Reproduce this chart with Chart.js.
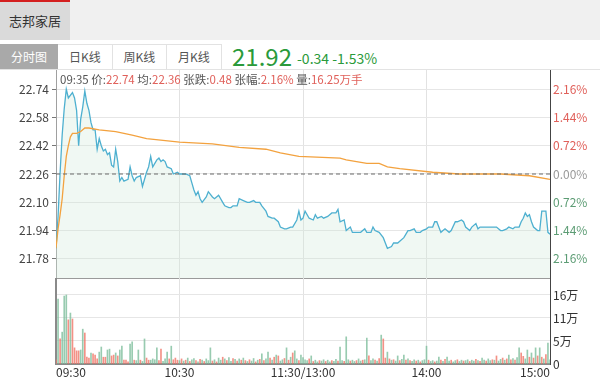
<!DOCTYPE html>
<html><head><meta charset="utf-8">
<script src="https://cdn.jsdelivr.net/npm/chart.js@4"></script>
<style>
body{margin:0;width:600px;height:383px;overflow:hidden;background:#fff;font-family:"Microsoft YaHei","Noto Sans CJK SC",sans-serif;position:relative}
.abs{position:absolute}
#band{left:0;top:0;width:600px;height:40px;background:#f0f0f0}
#stock{left:0;top:0;width:70px;height:38px;background:#dadada;border-top:2px solid #d4201f;color:#333;font-size:13px;line-height:38px;text-align:center}
.tab{top:44px;height:24px;line-height:24px;font-size:12px;text-align:center;color:#555;background:#fff;border:1px solid #e2e2e2;border-left:none;box-sizing:content-box}
#t0{left:0;width:58px;background:#a9a9a9;color:#fff;border-color:#a9a9a9}
#t1{left:58px;width:54px}
#t2{left:113px;width:53px}
#t3{left:167px;width:54px}
#last{left:232px;top:41px;font-size:24px;color:#2a9a3a;line-height:30px}
#chg{left:297px;top:49px;font-size:14px;color:#2a9a3a;line-height:18px}
#info{left:60px;top:71px;font-size:11.5px;color:#555;line-height:16px;white-space:nowrap}
#info b{font-weight:normal;color:#e0605a}
#topline{left:0;top:69px;width:600px;height:1px;background:#e3e3e3}
</style></head><body>
<div id="band" class="abs"></div>
<div id="stock" class="abs">志邦家居</div>
<div id="t0" class="abs tab">分时图</div>
<div id="t1" class="abs tab">日K线</div>
<div id="t2" class="abs tab">周K线</div>
<div id="t3" class="abs tab">月K线</div>
<div id="last" class="abs">21.92</div>
<div id="chg" class="abs">-0.34 -1.53%</div>
<div id="topline" class="abs"></div>
<canvas id="pc" class="abs" width="600" height="212" style="left:0;top:68px"></canvas>
<canvas id="vc" class="abs" width="600" height="105" style="left:0;top:278px"></canvas>
<div id="info" class="abs">09:35 价:<b>22.74</b> 均:<b>22.36</b> 张跌:<b>0.48</b> 张幅:<b>2.16%</b> 量:<b>16.25万手</b></div>
<script>
const prevClose = 22.26;
const priceTicks = [22.74, 22.58, 22.42, 22.26, 22.10, 21.94, 21.78];
const priceRange = [21.672, 22.848];
const timeLabels = {0: '09:30', 60: '10:30', 120: '11:30/13:00', 180: '14:00', 240: '15:00'};
const volTicks = [0, 16.25 / 3, 16.25 * 2 / 3, 16.25];
const volMax = 20.25;

const priceMin = [0,1,2,3,4,5,6,8,9,10,11,12,13,14,15,16,17,18,19,20,21,22,23,24,25,26,27,28,29,30,31,32,33,35,36,37,38,39,41,42,44,45,46,47,49,50,51,52,53,54,56,57,59,60,62,63,65,66,67,68,69,70,71,73,74,76,77,78,79,81,82,84,85,86,88,89,91,93,94,96,97,99,100,102,103,105,106,108,109,111,112,114,115,117,118,119,120,121,123,125,126,127,129,130,132,134,136,137,138,140,141,142,143,144,146,148,150,151,153,154,155,157,159,160,161,163,164,166,167,169,170,171,172,174,175,177,178,180,181,183,184,185,187,188,189,191,192,194,195,197,198,199,201,202,204,205,206,208,210,211,213,214,216,217,219,220,222,223,225,226,227,228,229,230,231,232,234,235,236,237,238,239,240];
const priceVal = [21.84,22.02,22.27,22.48,22.63,22.74,22.69,22.72,22.69,22.62,22.42,22.57,22.64,22.73,22.66,22.62,22.55,22.51,22.51,22.40,22.46,22.42,22.39,22.40,22.37,22.38,22.31,22.30,22.40,22.33,22.22,22.24,22.22,22.23,22.30,22.25,22.22,22.24,22.25,22.19,22.27,22.30,22.36,22.30,22.34,22.35,22.33,22.34,22.33,22.30,22.29,22.26,22.27,22.26,22.26,22.26,22.25,22.21,22.17,22.14,22.16,22.12,22.10,22.13,22.16,22.13,22.12,22.13,22.14,22.10,22.08,22.07,22.07,22.08,22.08,22.12,22.11,22.10,22.10,22.11,22.10,22.10,22.08,22.05,22.02,22.01,22.01,21.99,21.96,21.95,21.95,21.96,21.96,22.00,22.05,22.00,22.01,22.05,22.01,22.00,22.03,22.01,22.02,22.01,22.02,22.04,22.04,22.06,21.99,22.00,21.94,21.95,21.96,21.93,21.93,21.93,21.95,21.93,21.93,21.96,21.94,21.93,21.90,21.87,21.84,21.85,21.87,21.87,21.88,21.90,21.92,21.94,21.94,21.95,21.93,21.93,21.94,21.95,21.96,21.96,21.99,21.99,21.93,21.94,21.95,21.93,21.94,21.99,21.99,22.00,21.99,21.96,21.94,21.96,21.98,21.95,21.96,21.96,21.96,21.96,21.96,21.96,21.94,21.94,21.95,21.96,21.95,21.96,21.96,21.99,22.01,22.04,22.02,22.03,21.99,21.96,21.94,21.94,22.05,22.05,22.05,21.93,21.92];

const avgMin = [0,1,2,3,4,5,6,7,8,10,12,14,16,21,29,37,44,60,76,89,102,109,118,138,141,151,157,161,167,183,196,216,230,240];
const avgVal = [21.84,21.95,22.03,22.12,22.25,22.36,22.42,22.47,22.49,22.49,22.50,22.52,22.52,22.51,22.50,22.48,22.46,22.44,22.43,22.41,22.40,22.38,22.36,22.35,22.34,22.32,22.32,22.30,22.29,22.27,22.26,22.26,22.25,22.23];

// volume per minute, in 万手
const volume = [1.0,15.3,5.9,7.5,16.0,16.25,10.4,12.0,10.6,3.8,3.1,3.1,3.3,8.2,7.3,1.6,1.4,2.6,2.4,2.1,1.2,2.8,4.0,1.6,1.6,3.3,3.5,1.9,2.1,2.6,1.9,3.3,4.2,0.9,0.9,0.5,4.7,5.2,0.9,0.8,3.3,0.9,0.6,5.9,1.4,0.9,0.9,1.2,1.0,3.8,0.8,3.5,0.6,1.2,2.8,1.2,4.2,1.0,1.4,0.9,0.8,
1.2,0.7,0.9,1.4,0.6,1.0,1.3,0.8,0.5,1.1,
0.9,0.6,1.2,0.8,3.8,0.7,1.0,0.5,1.4,0.9,
1.6,1.2,0.8,1.5,0.6,1.3,1.1,0.7,1.2,0.9,
1.4,0.8,0.6,1.0,0.7,1.3,0.5,0.9,1.1,2.4,
0.8,1.2,2.8,1.4,0.9,1.6,2.1,1.9,0.7,1.0,
1.3,3.8,0.9,1.6,2.6,3.1,1.2,0.8,2.1,1.5,
1.0,0.8,1.2,1.9,0.6,0.9,0.5,0.8,0.7,1.0,
0.6,0.9,0.5,0.8,0.6,1.1,0.7,4.0,0.8,0.6,
6.4,1.0,0.7,0.9,0.6,0.8,1.2,0.7,0.9,1.0,
6.1,1.9,0.8,1.2,0.9,0.7,1.3,6.8,5.9,1.4,
2.8,1.2,0.9,1.0,0.7,1.9,0.8,1.1,2.1,0.9,
1.2,0.8,0.6,1.0,0.7,0.9,0.5,0.8,1.0,4.2,
0.9,0.6,0.8,0.5,0.7,1.6,0.9,0.6,1.1,1.6,
0.7,0.9,0.5,0.8,1.0,0.6,0.9,0.7,0.8,1.0,
0.6,0.9,0.7,1.1,0.8,0.6,1.4,0.9,0.7,1.2,
0.8,1.0,0.9,1.9,0.7,1.1,1.4,0.9,1.2,2.1,
1.0,1.3,0.9,1.5,3.8,2.6,1.8,1.2,3.3,1.6,
2.6,1.4,3.8,1.9,3.8,1.6,1.2,2.2,4.9,1.0];
// 1 = up minute (red), 0 = down minute (green)
const volSide = [1,0,1,0,0,0,1,0,1,1,1,1,0,0,1,1,1,0,1,1,1,0,0,1,1,0,0,1,1,0,1,0,0,1,1,1,0,0,1,0,0,1,0,0,1,1,0,0,0,0,1,1,0,0,0,1,0,1,1,1,0,
1,0,1,0,1,0,0,1,0,1, 0,1,0,0,0,1,0,1,0,0, 1,0,1,0,0,1,0,1,0,1, 0,1,0,1,0,0,1,0,1,0, 1,0,0,1,0,1,0,1,0,0, 1,0,1,0,1,0,0,1,0,0,
0,0,1,0,1,0,0,1,0,0, 1,0,0,1,0,0,1,0,0,1, 0,0,1,0,0,1,0,0,1,0, 0,1,0,0,1,0,1,0,1,1, 0,1,0,1,0,0,1,0,0,1, 0,1,0,0,1,0,1,0,0,0,
1,0,0,1,0,0,1,0,1,0, 0,1,0,0,1,0,0,1,0,0, 1,0,0,1,0,1,0,0,1,0, 0,1,0,1,0,0,1,0,1,0, 1,0,1,0,0,1,1,0,0,1, 0,1,0,1,0,1,0,1,0,0];

const RED = '#e0605a', GREEN = '#5c9c74';
const FONT = '"Microsoft YaHei","Noto Sans CJK SC",sans-serif';
const pct = v => (v - prevClose) / prevClose * 100;
const noPad = s => { s.paddingTop = 0; s.paddingBottom = 0; };
const edgeGrid = c => (c.tick && (c.tick.value === 0 || c.tick.value === 240)) ? 'rgba(0,0,0,0)' : '#e2e2e2';

new Chart(document.getElementById('pc'), {
  type: 'line',
  data: { datasets: [
    { data: [{x: 0, y: prevClose}, {x: 240, y: prevClose}], borderColor: '#6a6a6a', borderWidth: 1, borderDash: [4, 3], pointRadius: 0, fill: false, order: 0 },
    { data: avgMin.map((m, i) => ({x: m, y: avgVal[i]})), borderColor: '#f3a23f', borderWidth: 1.3, pointRadius: 0, fill: false, order: 1 },
    { data: priceMin.map((m, i) => ({x: m, y: priceVal[i]})), borderColor: '#4eb0d0', borderWidth: 1.3, pointRadius: 0, fill: 'start', backgroundColor: 'rgba(205,232,215,0.3)', order: 2 }
  ]},
  options: {
    responsive: false, animation: false, devicePixelRatio: 1,
    layout: { padding: { top: 2, bottom: 2, left: 0, right: 0 } },
    plugins: { legend: { display: false }, tooltip: { enabled: false } },
    scales: {
      x: { type: 'linear', min: 0, max: 240, ticks: { display: false, stepSize: 60 },
           grid: { color: edgeGrid, drawTicks: false }, border: { display: true, color: '#9a9a9a' },
           afterFit: s => { s.height = 0; } },
      y: { position: 'left', min: priceRange[0], max: priceRange[1],
           afterBuildTicks: s => { s.ticks = priceTicks.map(v => ({value: v})); },
           ticks: { callback: v => v.toFixed(2), color: '#444', font: { size: 12, family: FONT }, padding: 3 },
           grid: { color: '#e6e6e6', tickLength: 4, tickColor: '#777' }, border: { color: '#a0a0a0' },
           afterFit: s => { s.width = 56; noPad(s); } },
      y2: { position: 'right', min: pct(priceRange[0]), max: pct(priceRange[1]),
           afterBuildTicks: s => { s.ticks = priceTicks.map(v => ({value: pct(v)})); },
           ticks: { callback: v => Math.abs(v).toFixed(2) + '%', padding: 3, font: { size: 12, family: FONT },
                    color: c => c.tick.value > 1e-6 ? RED : (c.tick.value < -1e-6 ? GREEN : '#999') },
           grid: { drawOnChartArea: false, drawTicks: false }, border: { color: '#444' },
           afterFit: s => { s.width = 50; noPad(s); } }
    }
  }
});

new Chart(document.getElementById('vc'), {
  type: 'bar',
  data: { datasets: [{
    data: volume.map((v, i) => ({x: i, y: v})),
    backgroundColor: c => volSide[c.dataIndex] ? 'rgba(240,118,104,0.8)' : 'rgba(126,190,156,0.8)',
    barThickness: 1, borderWidth: 0
  }]},
  options: {
    responsive: false, animation: false, devicePixelRatio: 1,
    layout: { padding: 0 },
    plugins: { legend: { display: false }, tooltip: { enabled: false } },
    scales: {
      x: { type: 'linear', min: 0, max: 240, offset: false,
           afterBuildTicks: s => { s.ticks = Object.keys(timeLabels).map(k => ({value: +k})); },
           ticks: { callback: v => timeLabels[v], align: 'inner', color: '#333', font: { size: 12, family: FONT }, padding: 1, maxRotation: 0, autoSkip: false },
           grid: { color: edgeGrid, drawTicks: false, offset: false }, border: { color: '#8a8a8a', width: 2 },
           afterFit: s => { s.height = 19; } },
      y: { position: 'left', min: 0, max: volMax,
           afterBuildTicks: s => { s.ticks = volTicks.map(v => ({value: v})); },
           ticks: { display: false }, grid: { color: '#e6e6e6', drawTicks: false }, border: { color: '#8a8a8a', width: 2 },
           afterFit: s => { s.width = 56; noPad(s); } },
      y2: { position: 'right', min: 0, max: volMax,
           afterBuildTicks: s => { s.ticks = volTicks.map(v => ({value: v})); },
           ticks: { callback: v => v < 0.01 ? '0' : Math.round(v) + '万', color: '#333', padding: 3, font: { size: 12, family: FONT } },
           grid: { drawOnChartArea: false, drawTicks: false }, border: { color: '#444' },
           afterFit: s => { s.width = 50; noPad(s); } }
    }
  }
});
</script>
</body></html>
